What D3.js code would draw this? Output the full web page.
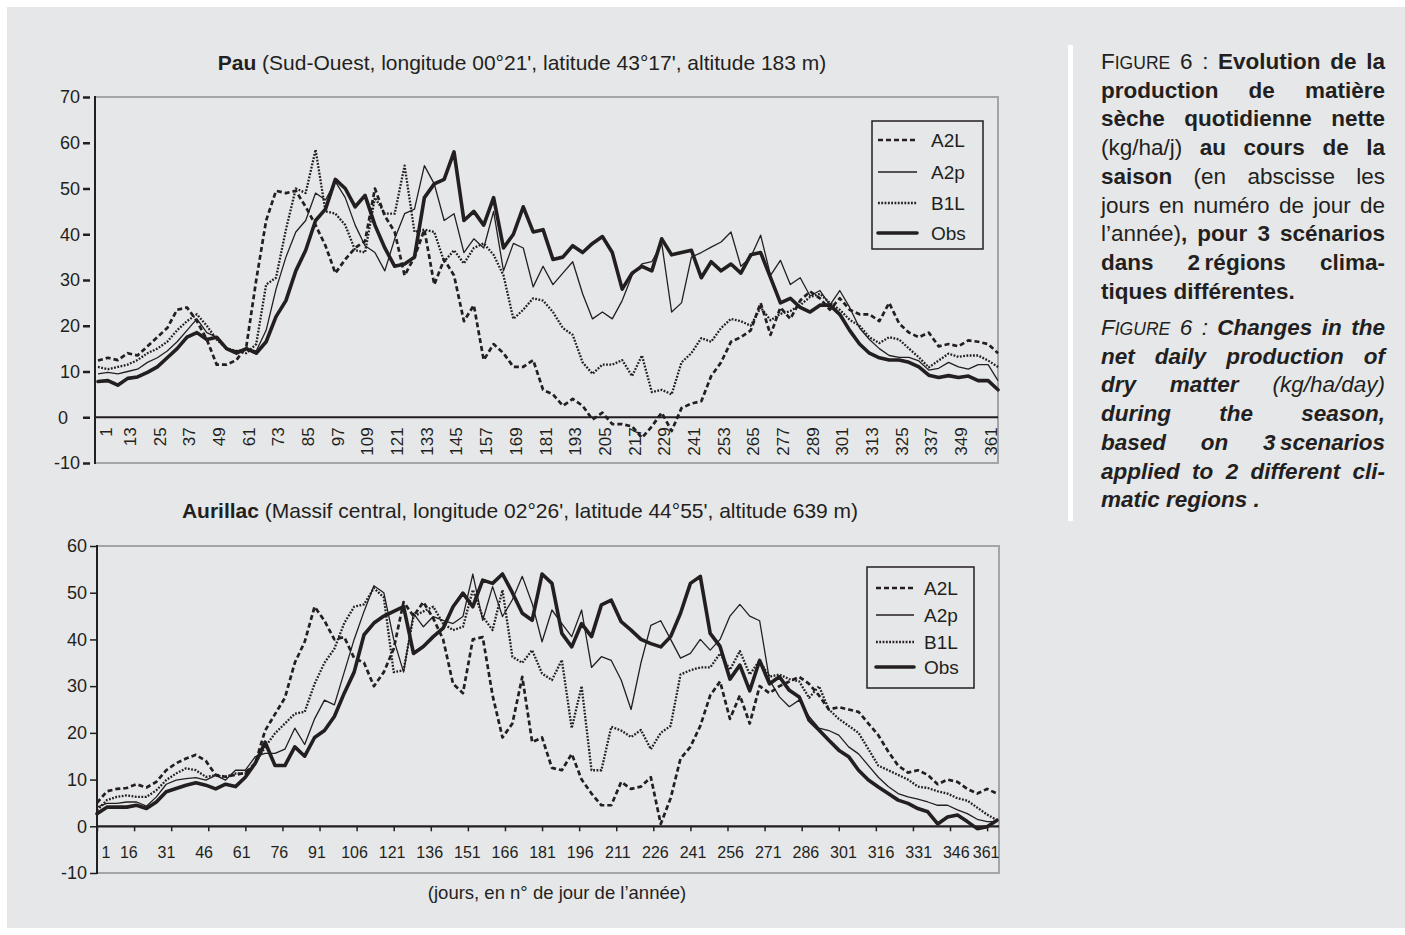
<!DOCTYPE html>
<html><head><meta charset="utf-8">
<script src="https://cdn.jsdelivr.net/npm/d3@7"></script>
<style>
html,body{margin:0;padding:0;background:#fff;}
svg{display:block;}
text{font-family:"Liberation Sans",Arial,Helvetica,sans-serif;fill:#231f20;}
</style></head><body>
<svg id="fig" width="1405" height="935"></svg>
<script>
// ---------- DATA ----------
const days = d3.range(1, 366, 4); // sampled day numbers 1,5,...,365
const seriesNames = ["A2L", "A2p", "B1L", "Obs"];

// Pau
const pauA2L = [12.4,13,12.5,14,13.5,15.5,17.5,19.5,23.5,24, 21,17,11.5,11.5,12.5,15.5,30,43,49.5,49, 49.5,46,42,37.5,31.5,34.5,37,38.5,50,44, 40.5,31,35,41,29,34.5,31,21,24.5,12.5, 16,14,11,11,12.5,6,5,2.5,4,2.5, -0.5,1,-1.5,-1.5,-2,-4.5,-2,1,-3,2, 3,3.5,9,12,16.5,17.5,19,25,18,24, 21.5,25.5,27.5,26,23.5,26,23.5,22.5,22.5,21, 25,20.5,18.5,17.5,18.5,15.5,16,15.5,16.8,16.5, 16,14];
const pauA2p = [9.5,9.8,9.5,10,10.5,12,13,14.5,16.5,19, 21.5,18.5,17.5,15,14.5,15,14.5,19,28,35, 40.5,43,49,47.5,51.5,48,42,37.5,36,32, 39,44.5,45.5,55,51,43,44.5,36,39,37, 45,32,38,37,28.5,33,29,31.5,34,27, 21.5,23,21.5,25.5,31,33.5,34,38,23,25, 35,36,37.2,38.3,40.5,33,35,39.8,31,34.3, 29,30.5,26.5,27.7,24.5,27.7,24,19.5,17,15, 13.5,13.1,13.1,12.3,10.3,10.7,12,11,10.5,11.5, 11.5,8];
const pauB1L = [11,10.5,11,11.5,12.5,14,15,16.5,19,21, 22.5,20,17,15,14.5,14,16,29,30.5,41, 50,49,58.5,45,44.5,42,36.5,36,48,44.5, 44.5,55,40.5,41,40.5,34,36.5,33.6,37,38, 35.5,31,21.5,23.5,26,25.5,23,19.5,18,12, 9.5,11.5,11.5,12.5,9,13.5,5.5,6,5,12, 14,17.3,16.5,19.5,21.5,21,20,24,21.2,22.6, 23.2,24.5,26.3,27,25,23.5,21.3,20,17.5,16.2, 17.5,17,15,13.1,10.9,12.4,13.9,13.2,13.5,13.5, 12.4,11];
const pauObs = [7.8,8,7,8.5,8.8,9.8,11,13,15,17.5, 18.5,17,17.5,15,14,15,14,16.5,22,25.5, 32,36.5,43,45.5,52,50,46,48.5,42,37, 33,33.5,35,48,51,52,58,43,45,42, 48,37,40,46,40.5,41,34.5,35,37.5,36, 38,39.5,36,28,31.5,33,32,39,35.5,36, 36.5,30.5,34,32,33.5,31.5,35.5,36,30.5,25, 26,24,23,24.5,24.5,22.5,19,16,14,13, 12.5,12.5,12,11,9.2,8.7,9.1,8.7,9,8, 8,6];

// Aurillac
const aurA2L = [5,7.5,8,8.2,9,8.3,9.5,12,13.5,14.5, 15.3,14,11,10.6,11,11.5,13.5,20.5,24,27.5, 35,39.5,47,44,40,40.5,36,35,30,33, 38,48,45,48,44.5,40,30.5,28.5,40,40.5, 28,19,22,32,18,19,12.5,12,15.5,10, 7,4.5,4.5,9.5,8,8.5,10.5,0.5,6,14.5, 17,21.5,28,31,23,28,22,30,28.5,30, 31,32,30.5,28,25,25.5,25,24.5,22,19.5, 16,13,11.5,12,11,9,10,9.5,8,7, 8,7];
const aurA2p = [4.1,4.9,4.9,5.2,5.2,4.3,6.3,9,9.9,10.2, 10.4,9.9,10.9,9.9,12,12,14.9,15.6,15.6,16.5, 21,17.5,23,27,26,33,40,46,51.5,50, 40,33,45.6,42.7,44.9,44.1,43.4,44.9,54,44.1, 51.3,44.9,48.5,53.5,47.7,39.5,46.3,43.4,40.6,46.3, 34,36.3,35.5,31.3,25,35,43,44,40,36, 37,40,37.7,40,45,47.5,45,44,31.3,27.7, 25.6,27,23.5,21,20.5,19.5,17,15.5,13,10.5, 8.5,7,6.3,5.8,5.2,4.5,4.5,3.5,2.7,1.5, 1,1];
const aurB1L = [3.4,5.6,6.3,6.6,6.3,6.3,7.7,9.9,11.3,12.4, 12,10.6,10.9,10.6,11.3,11.3,13.4,17,19.9,22, 24.1,24.5,30.5,35,38,43.5,47,47.5,51,49, 33,33.4,44.9,46,47,43.4,42,42.7,50.6,44.9, 42,50.6,36.3,35,37.7,32.7,31.3,35.6,21,30, 12,12,21.3,20.5,19.1,20.6,16.5,20,21.5,32.5, 33.4,34,34,37,33.5,37.5,32.5,35.5,32,32.5, 31.5,31,27.5,30,25,23,21.5,20,16.5,13, 12,11,10,8.5,8.2,7.5,7,6,5.5,4, 2.5,1.3];
const aurObs = [2.7,4.1,4.1,4.1,4.5,3.8,5.2,7.4,8.1,8.8, 9.3,8.8,8,9,8.5,10.5,13.5,18,13,13, 17,15,19,20.5,23.5,28.5,33,41,43.5,45, 46,47,37,38.5,40.6,42.4,47,49.9,47,52.7, 52,54,50,45.6,44.1,54,52,41.3,38.4,43.4, 40.6,47.4,48.4,43.8,42,40,39.1,38.4,40.6,45.6, 52,53.5,41.3,38.5,31.5,34.5,29,35.5,30.5,32, 29.1,27.7,22.7,20.6,18.4,16.3,14.9,12,9.9,8.4, 7,5.6,4.9,3.8,3.1,0.5,2,2.4,1,-0.5, -0.1,1.3];

// tick labels
const pauTicksX = d3.range(1, 366, 12);   // 1,13,...,361
const aurTicksX = d3.range(1, 366, 15);   // 1,16,...,361
const pauTicksY = [70, 60, 50, 40, 30, 20, 10, 0, -10];
const aurTicksY = [60, 50, 40, 30, 20, 10, 0, -10];

// texts
const pauTitle = ["Pau", " (Sud-Ouest, longitude 00°21', latitude 43°17', altitude 183 m)"];
const aurTitle = ["Aurillac", " (Massif central, longitude 02°26', latitude 44°55', altitude 639 m)"];
const xAxisTitle = "(jours, en n° de jour de l’année)";
const captionFr = [
  [["F","r"],["IGURE","c"],[" 6 : ","r"],["Evolution de la","b"]],
  [["production de matière","b"]],
  [["sèche quotidienne nette","b"]],
  [["(kg/ha/j) ","r"],["au cours de la","b"]],
  [["saison ","b"],["(en abscisse les","r"]],
  [["jours en numéro de jour de","r"]],
  [["l’année)","r"],[", pour 3 scénarios","b"]],
  [["dans 2\u2009régions clima-","b"]],
  [["tiques différentes.","b"]]
];
const captionEn = [
  [["F","i"],["IGURE","ci"],[" 6 : ","i"],["Changes in the","bi"]],
  [["net daily production of","bi"]],
  [["dry matter ","bi"],["(kg/ha/day)","i"]],
  [["during the season,","bi"]],
  [["based on 3\u2009scenarios","bi"]],
  [["applied to 2 different cli-","bi"]],
  [["matic regions .","bi"]]
];

// ---------- DRAWING ----------
const INK = "#231f20", FRAME = "#a3a5a8", BG = "#e6e7e9";
const FONT = "'Liberation Sans', Arial, Helvetica, sans-serif";
const svg = d3.select("#fig");
svg.append("rect").attr("x", 7).attr("y", 7).attr("width", 1398).attr("height", 921).attr("fill", BG);
svg.append("rect").attr("x", 1068).attr("y", 45).attr("width", 5).attr("height", 476).attr("fill", "#ffffff");

const lineStyles = {
  A2L: {w: 2.7, dash: "5,3", cap: "butt"},
  A2p: {w: 1.3, dash: null, cap: "butt"},
  B1L: {w: 2.3, dash: "1.8,1.5", cap: "butt"},
  Obs: {w: 3.6, dash: null, cap: "round"}
};

function styleLine(sel, name) {
  const s = lineStyles[name];
  sel.attr("fill", "none").attr("stroke", INK).attr("stroke-width", s.w)
     .attr("stroke-linejoin", "round").attr("stroke-linecap", s.cap);
  if (s.dash) sel.attr("stroke-dasharray", s.dash);
  return sel;
}

function drawChart(cfg) {
  const g = svg.append("g");
  const x = d3.scaleLinear().domain([1, 365]).range(cfg.xr);
  const y = d3.scaleLinear().domain([-10, cfg.ymax]).range([cfg.yBottom, cfg.yTop]);

  // frame (gray) top/right/bottom
  g.append("path")
    .attr("d", `M${cfg.axisX},${y(cfg.ymax)}H${cfg.right}V${y(-10)}H${cfg.axisX}`)
    .attr("fill", "none").attr("stroke", FRAME).attr("stroke-width", 2);

  // y axis
  const ya = d3.axisLeft(y).tickValues(cfg.ticksY).tickSize(cfg.tickLen).tickPadding(3)
    .tickFormat(d => String(d));
  const gy = g.append("g").attr("transform", `translate(${cfg.tickX},0)`).call(ya);
  gy.attr("font-family", FONT).attr("font-size", 18);
  gy.select(".domain").remove();
  gy.selectAll(".tick line").attr("stroke", INK).attr("stroke-width", cfg.tickW);
  gy.selectAll(".tick text").attr("fill", INK);
  if (cfg.zeroLeft) {
    gy.selectAll(".tick").filter(d => d === 0).select("text")
      .attr("text-anchor", "start").attr("x", cfg.zeroLeft - cfg.tickX);
  }
  // left axis line
  g.append("line").attr("x1", cfg.axisX).attr("x2", cfg.axisX)
    .attr("y1", y(cfg.ymax) - 1).attr("y2", y(-10) + 1)
    .attr("stroke", INK).attr("stroke-width", 2);

  // series
  const line = d3.line().x((d, i) => x(days[i])).y(d => y(d));
  ["A2L", "B1L", "A2p", "Obs"].forEach(n => {
    styleLine(g.append("path").datum(cfg.data[n]).attr("d", line), n);
  });

  // zero line
  g.append("line").attr("x1", cfg.axisX).attr("x2", cfg.right)
    .attr("y1", y(0)).attr("y2", y(0)).attr("stroke", INK).attr("stroke-width", 2.2);

  // x axis
  const xa = d3.axisBottom(x).tickValues(cfg.ticksX).tickSize(cfg.xTickLen).tickPadding(0)
    .tickFormat(d => String(d));
  const gx = g.append("g").attr("transform", `translate(0,${y(0)})`).call(xa);
  gx.attr("font-family", FONT).attr("font-size", cfg.xFont);
  gx.select(".domain").remove();
  gx.selectAll(".tick line").attr("stroke", INK).attr("stroke-width", 1.5);
  const tx = gx.selectAll(".tick text").attr("fill", INK);
  if (cfg.rotate) {
    tx.attr("transform", "rotate(-90)").attr("text-anchor", "end")
      .attr("x", -10).attr("dy", "0.35em")
      .attr("y", (d, i) => i === 0 ? 8 : 2);
  } else {
    const n = cfg.ticksX.length;
    tx.attr("y", 26).attr("dy", "0.35em")
      .attr("dx", d => (d - 181) * 0.035)
      .each(function (d, i) {
        if (i === 0) d3.select(this).attr("text-anchor", "start").attr("dx", 4);
        if (i === n - 1) d3.select(this).attr("text-anchor", "end").attr("dx", 0)
          .attr("x", cfg.right - x(d));
      });
  }

  // title
  const t = g.append("text").attr("x", cfg.titleX).attr("y", cfg.titleY)
    .attr("text-anchor", "middle").attr("font-size", 21);
  t.append("tspan").attr("font-weight", "bold").text(cfg.title[0]);
  t.append("tspan").text(cfg.title[1]);

  // legend
  const L = cfg.legend;
  g.append("rect").attr("x", L.x).attr("y", L.y).attr("width", L.w).attr("height", L.h)
    .attr("fill", BG).attr("stroke", INK).attr("stroke-width", 1.5);
  seriesNames.forEach((n, i) => {
    styleLine(g.append("line").attr("x1", L.lx0).attr("x2", L.lx1)
      .attr("y1", L.rows[i]).attr("y2", L.rows[i]), n);
    g.append("text").attr("x", L.tx).attr("y", L.rows[i]).attr("dy", "0.35em")
      .attr("font-size", 19).text(n);
  });
  return {x, y};
}

drawChart({
  title: pauTitle, titleX: 522, titleY: 70,
  ymax: 70, yTop: 97, yBottom: 463, axisX: 95, right: 998, xr: [98, 998],
  ticksY: pauTicksY, tickX: 90, tickLen: 7, tickW: 2.5, zeroLeft: 58,
  ticksX: pauTicksX, xTickLen: 0, xFont: 17, rotate: true,
  data: {A2L: pauA2L, A2p: pauA2p, B1L: pauB1L, Obs: pauObs},
  legend: {x: 872, y: 121, w: 111, h: 128, rows: [140, 172, 203, 233], lx0: 878, lx1: 917, tx: 931}
});

drawChart({
  title: aurTitle, titleX: 520, titleY: 518,
  ymax: 60, yTop: 546, yBottom: 873, axisX: 97, right: 999, xr: [97, 997],
  ticksY: aurTicksY, tickX: 97, tickLen: 7, tickW: 1.5, zeroLeft: null,
  ticksX: aurTicksX, xTickLen: 5, xFont: 16, rotate: false,
  data: {A2L: aurA2L, A2p: aurA2p, B1L: aurB1L, Obs: aurObs},
  legend: {x: 867, y: 567, w: 107, h: 121, rows: [588, 615, 642, 667], lx0: 876, lx1: 914, tx: 924}
});

svg.append("text").attr("x", 557).attr("y", 899).attr("text-anchor", "middle")
  .attr("font-size", 18.5).text(xAxisTitle);

// ---------- CAPTION (justified) ----------
const capStyles = {
  r: {w: "normal", s: "normal", k: 1},
  b: {w: "bold", s: "normal", k: 1},
  c: {w: "normal", s: "normal", k: 0.78},
  i: {w: "normal", s: "italic", k: 1},
  bi: {w: "bold", s: "italic", k: 1},
  ci: {w: "normal", s: "italic", k: 0.78}
};
function toWords(runs) {
  const words = [[]];
  runs.forEach(([t, s]) => {
    t.split(" ").forEach((p, i) => {
      if (i > 0) words.push([]);
      if (p.length) words[words.length - 1].push([p, s]);
    });
  });
  return words.filter(w => w.length);
}
const CAP_X0 = 1101, CAP_X1 = 1385, CAP_FS = 22.5, CAP_LH = 28.7;
function drawParagraph(lines, y0) {
  const g = svg.append("g");
  lines.forEach((runs, li) => {
    const y = y0 + li * CAP_LH;
    const words = toWords(runs).map(w => {
      const t = g.append("text").attr("x", 0).attr("y", y).attr("font-size", CAP_FS);
      w.forEach(([txt, st]) => {
        const S = capStyles[st];
        t.append("tspan").attr("font-weight", S.w).attr("font-style", S.s)
          .attr("font-size", CAP_FS * S.k).text(txt);
      });
      return {t, w: t.node().getComputedTextLength()};
    });
    const total = d3.sum(words, d => d.w);
    const last = li === lines.length - 1;
    const gap = (!last && words.length > 1) ? (CAP_X1 - CAP_X0 - total) / (words.length - 1) : CAP_FS * 0.278;
    let cx = CAP_X0;
    words.forEach(d => { d.t.attr("x", cx); cx += d.w + gap; });
  });
}
drawParagraph(captionFr, 69);
drawParagraph(captionEn, 335);
</script>
</body></html>
